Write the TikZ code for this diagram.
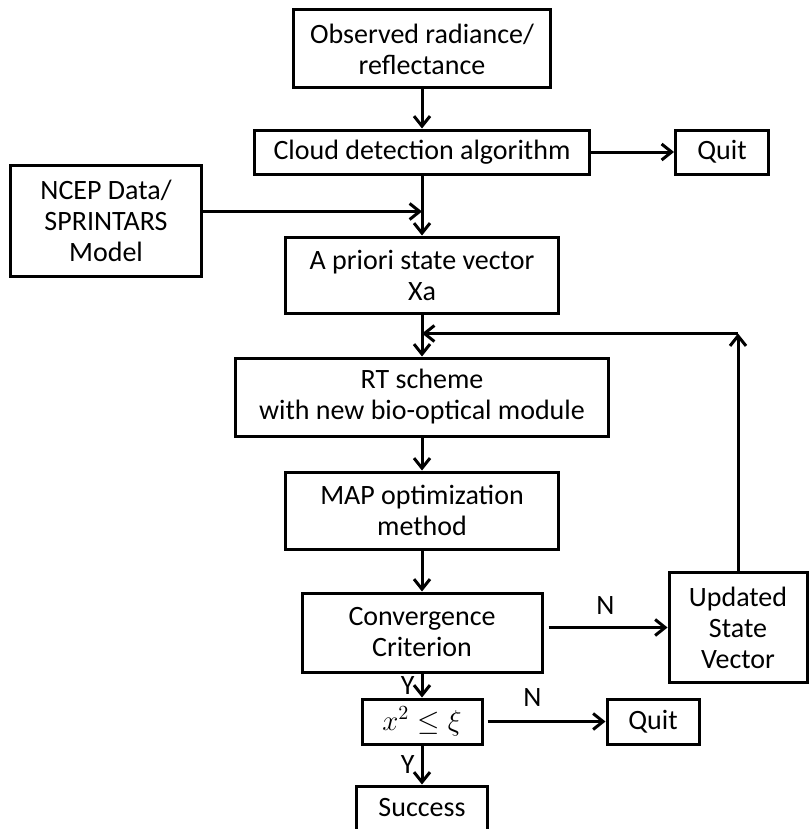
\documentclass[tikz,border=0pt]{standalone}
\usepackage{fontspec}
\setmainfont{Carlito}
\usetikzlibrary{positioning, arrows.meta}

\begin{document}
\begin{tikzpicture}[
  node distance=19.5pt and 41.5pt,
  font=\fontsize{14pt}{15.5pt}\selectfont,
  box/.style={rectangle, draw, line width=1.5pt, fill=white, align=center, inner sep=0pt},
  arr/.style={-{Straight Barb[length=5pt,width=8pt]}, line width=1.5pt},
  lbl/.style={inner sep=1pt}
]
\useasboundingbox (0,0) rectangle (405.5pt,-414.5pt);

\node[box, minimum width=128.5pt, minimum height=39pt] (obs) at (211pt,-24.5pt) {Observed radiance/\\reflectance};
\node[box, minimum width=167.5pt, minimum height=22pt, below=19.5pt of obs] (cloud) {Cloud detection algorithm};
\node[box, minimum width=46.5pt, minimum height=22pt, right=41.5pt of cloud] (quit) {Quit};
\node[box, minimum width=136.5pt, minimum height=38pt, below=30pt of cloud] (apriori) {A priori state vector\\Xa};
\node[box, minimum width=95.5pt, minimum height=55.5pt, left=40.5pt of apriori, yshift=27pt] (ncep) {NCEP Data/\\SPRINTARS\\Model};
\node[box, minimum width=186.5pt, minimum height=39pt, below=21pt of apriori] (rt) {RT scheme\\with new bio-optical module};
\node[box, minimum width=136.5pt, minimum height=38.5pt, below=16.5pt of rt] (map) {MAP optimization\\method};
\node[box, minimum width=120pt, minimum height=39.5pt, below=20.5pt of map] (conv) {Convergence\\Criterion};
\node[box, minimum width=69pt, minimum height=55pt, right=62pt of conv, yshift=2.5pt] (upd) {Updated\\State\\Vector};
\node[box, minimum width=60pt, minimum height=22.5pt, below=12pt of conv] (chi) {$x^2\le\xi$};
\node[box, minimum width=46pt, minimum height=22.5pt, right=61pt of chi] (quit2) {Quit};
\node[box, minimum width=65.5pt, minimum height=22pt, below=19.5pt of chi] (success) {Success};

% join points
\coordinate (ncepout) at ([yshift=4.75pt]ncep.east);
\coordinate (join) at (cloud.south |- ncepout);
\coordinate[below=9.5pt of apriori.south] (loopin);
\coordinate (corner) at (upd.north |- loopin);

\draw[arr] (obs) -- (cloud);
\draw[arr] (cloud) -- (quit);
\draw[arr] (cloud) -- (apriori);
\draw[arr] (ncepout) -- (join);
\draw[arr] (apriori) -- (rt);
\draw[arr] (rt) -- (map);
\draw[arr] (map) -- (conv);
\draw[arr, shorten <=2.5pt] (conv.east |- upd.west) -- node[lbl, above=5pt]{N} (upd.west);
\draw[arr] (upd) -- (corner);
\draw[arr] (corner) -- (loopin);
\draw[arr] (conv) -- node[lbl, left=2pt]{Y} (chi);
\draw[arr, shorten <=2pt] (chi) -- node[lbl, above=6pt, pos=0.4]{N} (quit2);
\draw[arr] (chi) -- node[lbl, left=2pt]{Y} (success);

\end{tikzpicture}
\end{document}
